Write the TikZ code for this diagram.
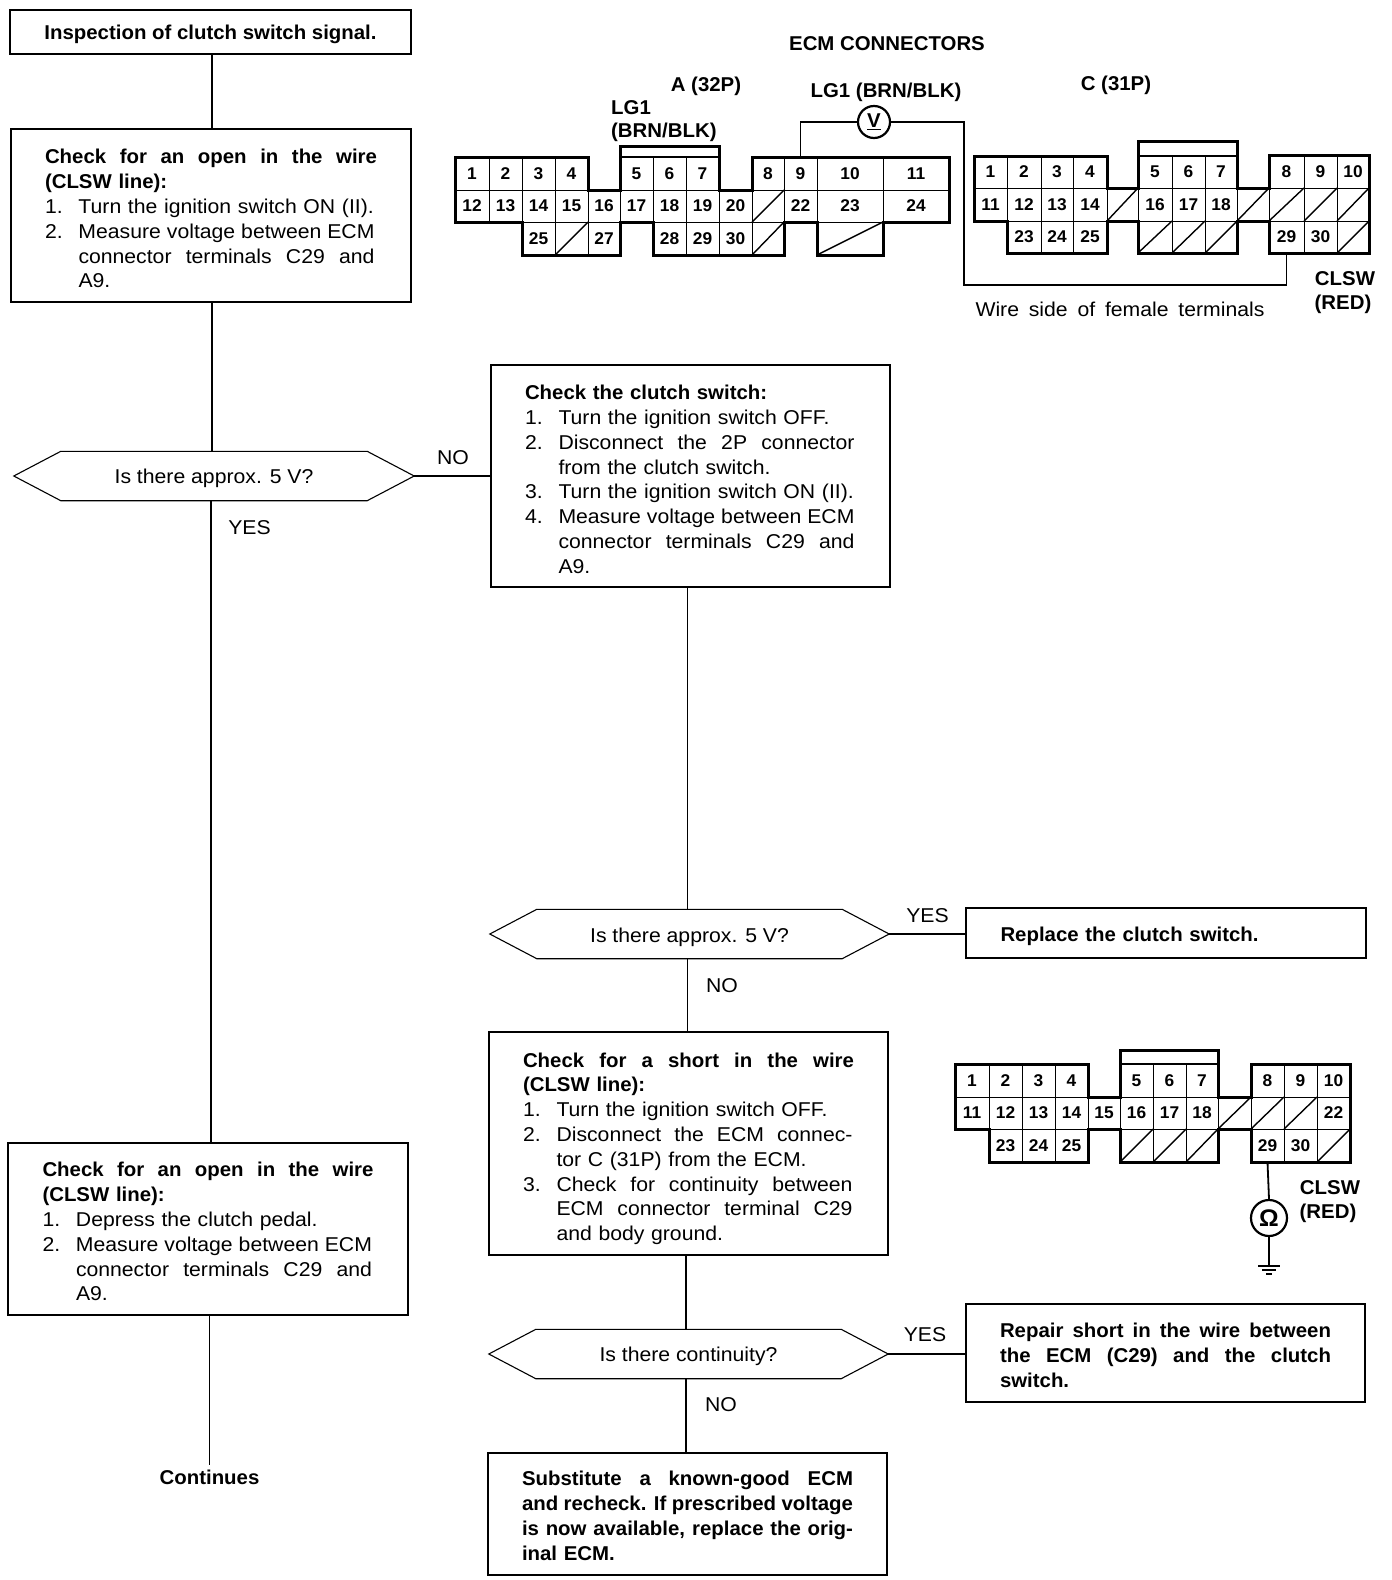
\documentclass[tikz,border=0pt]{standalone}
\usepackage{fontspec}
\setmainfont{Liberation Sans}[FakeStretch=1.06,BoldFeatures={FakeStretch=1.02}]
\usetikzlibrary{calc}
\newcommand{\jl}[2]{\makebox[#1pt][s]{\spaceskip=0pt\xspaceskip=0pt #2}}
\newcommand{\itm}[1]{\makebox[33.5pt][l]{#1}}
\newcommand{\ind}{\hspace*{33.5pt}}
\tikzset{
  x=1pt,y=-1pt,
  body/.style={font=\fontsize{20}{24.8}\selectfont},
  bodyb/.style={font=\fontsize{20}{24.8}\selectfont\bfseries},
  down/.style={execute at begin node={\rule{0pt}{\dimexpr 15pt+2\dimexpr #1pt\relax\relax}}},
  flowbox/.style={draw,line width=1.1pt,rectangle,inner sep=0pt,align=left,body},
  hexbox/.style={rectangle,inner sep=0pt,body},
  lab/.style={inner sep=0pt,body},
  labb/.style={inner sep=0pt,bodyb},
  pinlab/.style={inner sep=0pt,font=\fontsize{17}{18}\selectfont\bfseries},
  cellline/.style={line width=.9pt},
  outline/.style={line width=3pt,line join=miter},
  wire/.style={line width=1.2pt},
  conn/.style={line width=1.1pt},
  meter/.style={draw,circle,line width=2.2pt,minimum size=32pt,inner sep=0pt,font=\fontsize{20}{20}\selectfont\bfseries},
}
% row of numbered cells: prefix, top, bottom, list label/x1/x2
\newcommand{\crow}[4]{\foreach \l/\a/\b in {#4}{
  \draw[cellline] (\a,#2) rectangle (\b,#3);
  \node[pinlab] (#1\l) at ({(\a+\b)/2},{(#2+#3)/2}) {\l};}}
% row of slashed cells: top, bottom, list x1/x2
\newcommand{\srow}[3]{\foreach \a/\b in {#3}{
  \draw[cellline] (\a,#1) rectangle (\b,#2);
  \draw[line width=1.4pt] (\a,#2) -- (\b,#1);}}
\newcommand{\hexa}[1]{\draw[line width=1.1pt] (#1.west) -- ($(#1.north west)+(47,0)$) -- ($(#1.north east)+(-47,0)$) -- (#1.east) -- ($(#1.south east)+(-47,0)$) -- ($(#1.south west)+(47,0)$) -- cycle;}
\begin{document}
\begin{tikzpicture}
\useasboundingbox (0,0) rectangle (1392,1580);
\fill[white] (0,0) rectangle (1392,1580);

% flow boxes
\node[flowbox,bodyb,down=2,minimum width=401pt,minimum height=44pt,align=center] (b1) at (210.5,32) {Inspection of clutch switch signal.};
\node[flowbox,down=3,minimum width=400pt,minimum height=173pt,text width=332pt] (b2) at (211,215.5) {%
{\bfseries\jl{332}{Check for an open in the wire}}\\
{\bfseries (CLSW line):}\\
\itm{1.}Turn the ignition switch ON (II).\\
\itm{2.}\jl{296}{Measure voltage between ECM}\\
\ind\jl{296}{connector terminals C29 and}\\
\ind A9.};
\node[hexbox,down=2,minimum width=400pt,minimum height=49pt] (d1) at (214,476) {Is there approx. 5 V?};
\hexa{d1}
\node[flowbox,down=3,minimum width=399pt,minimum height=222pt,text width=331pt] (b3) at (690.5,476) {%
{\bfseries Check the clutch switch:}\\
\itm{1.}Turn the ignition switch OFF.\\
\itm{2.}\jl{296}{Disconnect the 2P connector}\\
\ind from the clutch switch.\\
\itm{3.}Turn the ignition switch ON (II).\\
\itm{4.}\jl{296}{Measure voltage between ECM}\\
\ind\jl{296}{connector terminals C29 and}\\
\ind A9.};
\node[hexbox,down=3,minimum width=399pt,minimum height=49pt] (d2) at (689.5,934) {Is there approx. 5 V?};
\hexa{d2}
\node[flowbox,bodyb,down=3,minimum width=400pt,minimum height=50pt,text width=331pt] (b4) at (1166,933) {Replace the clutch switch.};
\node[flowbox,down=5,minimum width=399pt,minimum height=223pt,text width=331pt] (b5) at (688.5,1143.5) {%
{\bfseries\jl{331}{Check for a short in the wire}}\\
{\bfseries (CLSW line):}\\
\itm{1.}Turn the ignition switch OFF.\\
\itm{2.}\jl{296}{Disconnect the ECM connec-}\\
\ind tor C (31P) from the ECM.\\
\itm{3.}\jl{296}{Check for continuity between}\\
\ind\jl{296}{ECM connector terminal C29}\\
\ind and body ground.};
\node[hexbox,down=2,minimum width=399pt,minimum height=49pt] (d3) at (688.5,1354) {Is there continuity?};
\hexa{d3}
\node[flowbox,bodyb,down=2,minimum width=399pt,minimum height=98pt,text width=331pt] (b6) at (1165.5,1353) {%
\jl{331}{Repair short in the wire between}\\
\jl{331}{the ECM (C29) and the clutch}\\
switch.};
\node[flowbox,bodyb,down=1.5,minimum width=399pt,minimum height=122pt,text width=331pt] (b7) at (687.5,1514) {%
\jl{331}{Substitute a known-good ECM}\\
\jl{331}{and recheck. If prescribed voltage}\\
\jl{331}{is now available, replace the orig-}\\
inal ECM.};
\node[flowbox,down=2.5,minimum width=400pt,minimum height=172pt,text width=331pt] (b8) at (208,1229) {%
{\bfseries\jl{331}{Check for an open in the wire}}\\
{\bfseries (CLSW line):}\\
\itm{1.}Depress the clutch pedal.\\
\itm{2.}\jl{296}{Measure voltage between ECM}\\
\ind\jl{296}{connector terminals C29 and}\\
\ind A9.};
\node[labb,anchor=north,minimum height=24pt] (cont) at (209.5,1465) {Continues};

% flow connectors
\coordinate (xa) at (212,0);
\coordinate (xb) at (211,0);
\coordinate (xc) at (687.5,0);
\coordinate (xd) at (686,0);
\draw[conn] (b1.south -| xa) -- (b2.north -| xa);
\draw[conn] (b2.south -| xa) -- (d1.north -| xa);
\draw[conn] (d1.south -| xb) -- (b8.north -| xb);
\draw[conn] (d1.east) -- (d1.east -| b3.west);
\draw[conn] (b3.south -| xc) -- (d2.north -| xc);
\draw[conn] (d2.east) -- (d2.east -| b4.west);
\draw[conn] (d2.south -| xc) -- (b5.north -| xc);
\draw[conn] (b5.south -| xd) -- (d3.north -| xd);
\draw[conn] (d3.east) -- (d3.east -| b6.west);
\draw[conn] (d3.south -| xd) -- (b7.north -| xd);
\draw[conn] (b8.south -| cont.north) -- (cont.north);

% flow labels
\node[lab] (n1) at (453,458) {NO};
\node[lab] (y1) at (249.5,528) {YES};
\node[lab] (y2) at (927.5,916) {YES};
\node[lab] (n2) at (722,986) {NO};
\node[lab] (y3) at (925,1335) {YES};
\node[lab] (n3) at (721,1405) {NO};

% titles
\node[labb] (t1) at (887,44) {ECM CONNECTORS};
\node[labb] (t2) at (706,86) {A (32P)};
\node[labb,anchor=west] (t3) at (611,108) {LG1};
\node[labb,anchor=west] (t4) at (611,132) {(BRN/BLK)};
\node[labb] (t5) at (886,92) {LG1 (BRN/BLK)};
\node[labb] (t6) at (1116,85) {C (31P)};
\node[labb] (t7) at (1345,279) {CLSW};
\node[labb] (t8) at (1343,304) {(RED)};
\node[lab] (t9) at (1120,309) {\jl{289}{Wire side of female terminals}};
\node[labb] (t10) at (1330,1188) {CLSW};
\node[labb] (t11) at (1328,1213) {(RED)};

% connector A
\crow{A}{157}{190}{1/455/489,2/489/522,3/522/555,4/555/588,5/620/653,6/653/686,7/686/719,8/752/784,9/784/817,10/817/883,11/883/949}
\crow{A}{190}{222}{12/455/489,13/489/522,14/522/555,15/555/588,16/588/620,17/620/653,18/653/686,19/686/719,20/719/752,22/784/817,23/817/883,24/883/949}
\crow{A}{222}{255}{25/522/555,27/588/620,28/653/686,29/686/719,30/719/752}
\srow{190}{222}{752/784}
\srow{222}{255}{555/588,752/784,817/883}
\draw[outline] (455,157) -- (588,157) -- (588,190) -- (620,190) -- (620,146) -- (719,146) -- (719,190) -- (752,190) -- (752,157) -- (949,157) -- (949,222) -- (883,222) -- (883,255) -- (817,255) -- (817,222) -- (784,222) -- (784,255) -- (653,255) -- (653,222) -- (620,222) -- (620,255) -- (522,255) -- (522,222) -- (455,222) -- cycle;
\draw[line width=1.6pt] (620,157) -- (719,157);

% connector C
\crow{C}{156}{188}{1/974/1007,2/1007/1041,3/1041/1073,4/1073/1107,5/1138/1172,6/1172/1205,7/1205/1237,8/1269/1304,9/1304/1337,10/1337/1369}
\crow{C}{188}{221}{11/974/1007,12/1007/1041,13/1041/1073,14/1073/1107,16/1138/1172,17/1172/1205,18/1205/1237}
\crow{C}{221}{253}{23/1007/1041,24/1041/1073,25/1073/1107,29/1269/1304,30/1304/1337}
\srow{188}{221}{1107/1138,1237/1269,1269/1304,1304/1337,1337/1369}
\srow{221}{253}{1138/1172,1172/1205,1205/1237,1337/1369}
\draw[outline] (974,156) -- (1107,156) -- (1107,188) -- (1138,188) -- (1138,141) -- (1237,141) -- (1237,188) -- (1269,188) -- (1269,155) -- (1369,155) -- (1369,253) -- (1269,253) -- (1269,221) -- (1237,221) -- (1237,253) -- (1138,253) -- (1138,221) -- (1107,221) -- (1107,253) -- (1007,253) -- (1007,221) -- (974,221) -- cycle;
\draw[line width=1.6pt] (1138,156) -- (1237,156);

% connector C, lower
\crow{D}{1064}{1097}{1/955/989,2/989/1022,3/1022/1055,4/1055/1088,5/1120/1153,6/1153/1186,7/1186/1218,8/1251/1284,9/1284/1317,10/1317/1350}
\crow{D}{1097}{1129}{11/955/989,12/989/1022,13/1022/1055,14/1055/1088,15/1088/1120,16/1120/1153,17/1153/1186,18/1186/1218,22/1317/1350}
\crow{D}{1129}{1162}{23/989/1022,24/1022/1055,25/1055/1088,29/1251/1284,30/1284/1317}
\srow{1097}{1129}{1218/1251,1251/1284,1284/1317}
\srow{1129}{1162}{1120/1153,1153/1186,1186/1218,1317/1350}
\draw[outline] (955,1064) -- (1088,1064) -- (1088,1097) -- (1120,1097) -- (1120,1050) -- (1218,1050) -- (1218,1097) -- (1251,1097) -- (1251,1064) -- (1350,1064) -- (1350,1162) -- (1251,1162) -- (1251,1129) -- (1218,1129) -- (1218,1162) -- (1120,1162) -- (1120,1129) -- (1088,1129) -- (1088,1162) -- (989,1162) -- (989,1129) -- (955,1129) -- cycle;
\draw[line width=1.6pt] (1120,1064) -- (1218,1064);

% meters and wires
\node[meter] (vm) at (874,122) {\underline{V}};
\draw[wire] (A9.north |- 0,157) |- (vm.west);
\coordinate (wc) at (964,122);
\draw[wire] (vm.east) -- (wc |- vm.east) |- (C29.south |- 0,285) -- (C29.south |- 0,253);
\node[meter,minimum size=36pt,font=\fontsize{24}{24}\selectfont\bfseries] (om) at (1269,1218) {Ω};
\coordinate (gnd) at (1269,1266);
\draw[line width=1.8pt] (D29.south |- 0,1162) -- (om.north);
\draw[line width=1.8pt] (om.south) -- (gnd);
\draw[wire] ($(gnd)+(-11,0)$) -- ($(gnd)+(11,0)$);
\draw[wire] ($(gnd)+(-7,4)$) -- ($(gnd)+(7,4)$);
\draw[wire] ($(gnd)+(-3,8)$) -- ($(gnd)+(3,8)$);
\end{tikzpicture}
\end{document}
